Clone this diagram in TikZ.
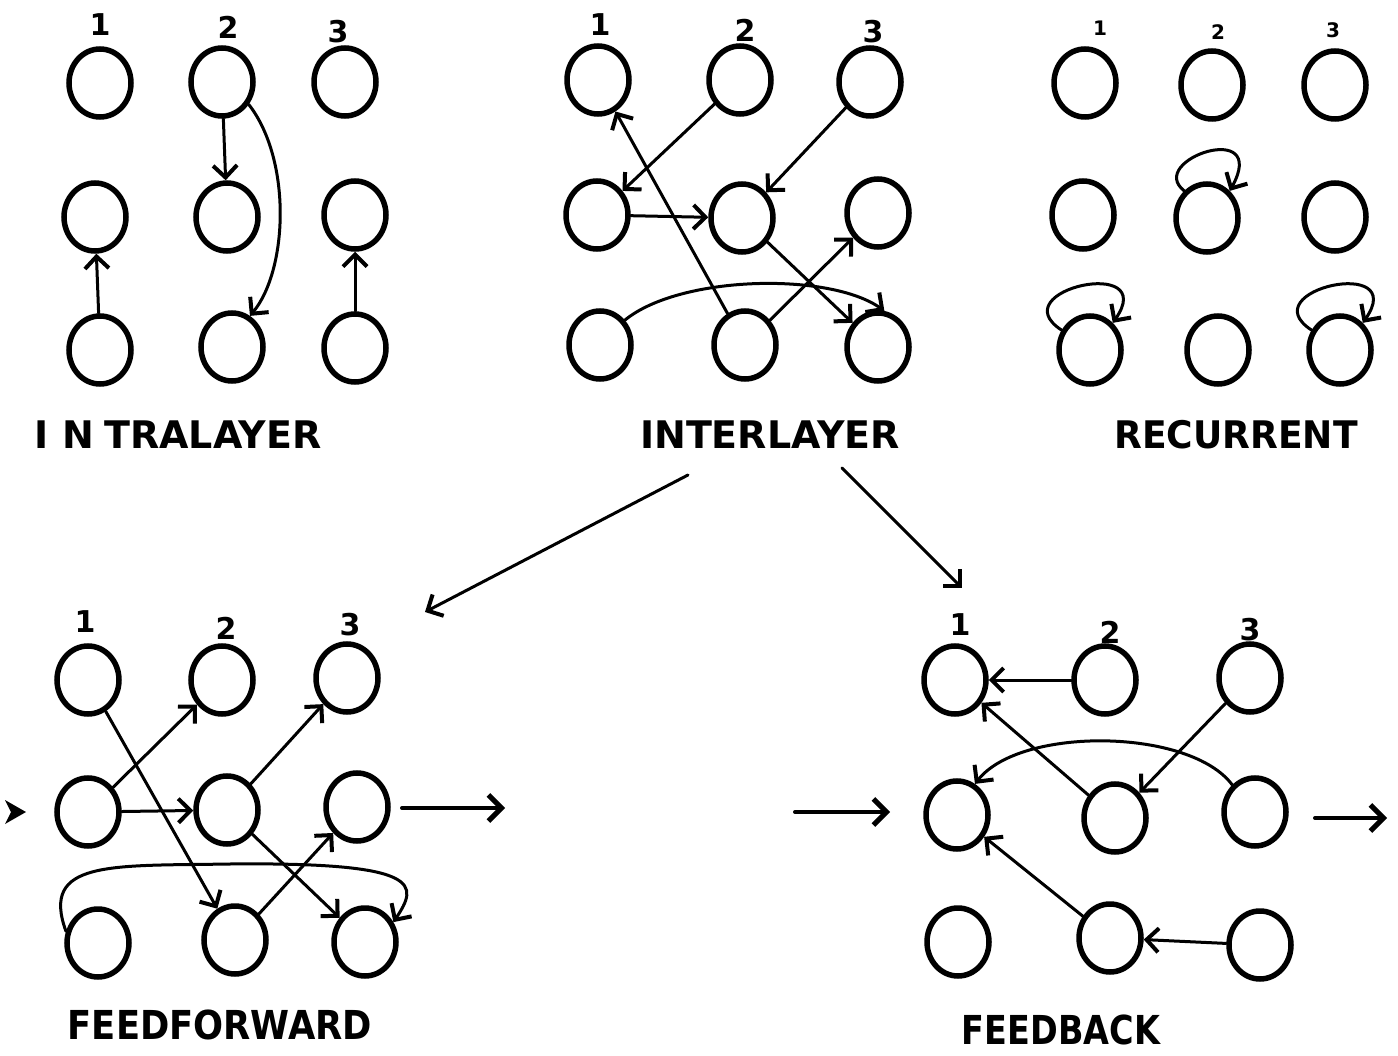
\documentclass[tikz,border=0pt]{standalone}
\usepackage{fontspec}
\setmainfont{DejaVu Sans}
\usetikzlibrary{shapes.geometric,arrows.meta}
\begin{document}
\begin{tikzpicture}[x=1pt,y=-1pt,
  nd/.style={ellipse,draw,line width=5.5pt,minimum width=62pt,minimum height=68pt,inner sep=0pt},
  arr/.style={line width=3pt,line cap=round,-{Straight Barb[length=12pt,width=24pt,line width=4pt]}},
  bigarr/.style={line width=4pt,line cap=round,-{Straight Barb[length=13pt,width=26pt,line width=5pt]}},
  lab/.style={font=\fontsize{30}{36}\selectfont\bfseries},
  slab/.style={font=\fontsize{20}{24}\selectfont\bfseries},
  ttl/.style={font=\fontsize{38}{46}\selectfont\bfseries},
  ]
\useasboundingbox[fill=white] (0,0) rectangle (1398,1056);

% ---------------- INTRALAYER ----------------
\node[lab] (la1) at (100,25) {1};
\node[lab] (la2) at (228,27) {2};
\node[lab] (la3) at (338,32) {3};
\node[nd] (a11) at (100,83) {};
\node[nd] (a12) at (222,82) {};
\node[nd] (a13) at (345,82) {};
\node[nd] (a21) at (95,217) {};
\node[nd] (a22) at (227,217) {};
\node[nd] (a23) at (355,215) {};
\node[nd] (a31) at (100,350) {};
\node[nd] (a32) at (232,347) {};
\node[nd] (a33) at (355,348) {};
\draw[arr] (a31) -- (a21);
\draw[arr] (a12) -- (a22);
\draw[arr] (a12.-40) .. controls (292,160) and (288,270) .. (a32.60);
\draw[arr] (a33) -- (a23);
\node[ttl] (ta) at (178,435) {I\hspace{14pt}N\hspace{10pt}TRALAYER};

% ---------------- INTERLAYER ----------------
\node[lab] (lb1) at (600,25) {1};
\node[lab] (lb2) at (745,30) {2};
\node[lab] (lb3) at (873,32) {3};
\node[nd] (b11) at (598,80) {};
\node[nd] (b12) at (740,80) {};
\node[nd] (b13) at (870,82) {};
\node[nd] (b21) at (597,215) {};
\node[nd] (b22) at (742,218) {};
\node[nd] (b23) at (878,213) {};
\node[nd] (b31) at (600,345) {};
\node[nd] (b32) at (745,345) {};
\node[nd] (b33) at (878,347) {};
\draw[arr] (b32) -- (b11);
\draw[arr] (b12) -- (b21);
\draw[arr] (b13) -- (b22);
\draw[arr] (b21) -- (b22);
\draw[arr] (b22) -- (b33);
\draw[arr] (b32) -- (b23);
\draw[arr] (b31.45) .. controls (680,275) and (830,272) .. (b33.80);
\node[ttl] (tb) at (770,435) {INTERLAYER};

% ---------------- RECURRENT ----------------
\node[slab] (lc1) at (1100,28) {1};
\node[slab] (lc2) at (1218,32) {2};
\node[slab] (lc3) at (1333,30) {3};
\node[nd] (c11) at (1085,83) {};
\node[nd] (c12) at (1212,85) {};
\node[nd] (c13) at (1335,85) {};
\node[nd] (c21) at (1083,215) {};
\node[nd] (c22) at (1207,218) {};
\node[nd] (c23) at (1335,217) {};
\node[nd] (c31) at (1090,350) {};
\node[nd] (c32) at (1218,350) {};
\node[nd] (c33) at (1340,350) {};
\draw[arr] (c22.130) .. controls (1145,160) and (1270,118) .. (c22.50);
\draw[arr] (c31.145) .. controls (1000,290) and (1160,255) .. (c31.50);
\draw[arr] (c33.145) .. controls (1250,290) and (1410,255) .. (c33.50);
\node[ttl] (tc) at (1236,435) {\scalebox{0.95}[1]{RECURRENT}};

% ---------------- FEEDFORWARD ----------------
\node[lab] (ld1) at (85,622) {1};
\node[lab] (ld2) at (226,628) {2};
\node[lab] (ld3) at (350,625) {3};
\node[nd] (d11) at (88,680) {};
\node[nd] (d12) at (222,680) {};
\node[nd] (d13) at (347,678) {};
\node[nd] (d21) at (88,812) {};
\node[nd] (d22) at (227,810) {};
\node[nd] (d23) at (357,807) {};
\node[nd] (d31) at (98,943) {};
\node[nd] (d32) at (235,940) {};
\node[nd] (d33) at (365,942) {};
\draw[arr] (d11) -- (d32);
\draw[arr] (d21) -- (d12);
\draw[arr] (d21) -- (d22);
\draw[arr] (d22) -- (d13);
\draw[arr] (d22) -- (d33);
\draw[arr] (d32) -- (d23);
\draw[arr] (d31.160) .. controls (40,860) and (110,866) .. (230,864)
            .. controls (425,862) and (418,885) .. (d33.35);
\fill (5,800) -- (26,812) -- (5,824) -- (11,812) -- cycle;
\coordinate (dos) at (402,808);
\coordinate (doe) at (505,808);
\draw[bigarr] (dos) -- (doe);
\node[ttl] (td) at (220,1025) {\scalebox{0.93}[1.05]{FEEDFORWARD}};

% ---------------- FEEDBACK ----------------
\node[lab] (le1) at (960,625) {1};
\node[lab] (le2) at (1110,632) {2};
\node[lab] (le3) at (1250,630) {3};
\node[nd] (e11) at (955,680) {};
\node[nd] (e12) at (1105,680) {};
\node[nd] (e13) at (1250,678) {};
\node[nd] (e21) at (957,815) {};
\node[nd] (e22) at (1115,818) {};
\node[nd] (e23) at (1255,812) {};
\node[nd] (e31) at (958,942) {};
\node[nd] (e32) at (1110,938) {};
\node[nd] (e33) at (1260,945) {};
\draw[arr] (e12) -- (e11);
\draw[arr] (e22) -- (e11);
\draw[arr] (e13) -- (e22);
\draw[arr] (e23.130) .. controls (1190,728) and (1020,726) .. (e21.60);
\draw[arr] (e32) -- (e21);
\draw[arr] (e33) -- (e32);
\coordinate (eis) at (795,812);
\coordinate (eie) at (890,812);
\draw[bigarr] (eis) -- (eie);
\coordinate (eos) at (1315,818);
\coordinate (eoe) at (1387,818);
\draw[bigarr] (eos) -- (eoe);
\node[ttl] (te) at (1061,1030) {\scalebox{0.88}[1.05]{FEEDBACK}};

% ---------------- big arrows ----------------
\coordinate (g1s) at (688,475);
\coordinate (g1e) at (425,612);
\coordinate (g2s) at (842,468);
\coordinate (g2e) at (962,588);
\draw[arr] (g1s) -- (g1e);
\draw[arr] (g2s) -- (g2e);
\end{tikzpicture}
\end{document}
